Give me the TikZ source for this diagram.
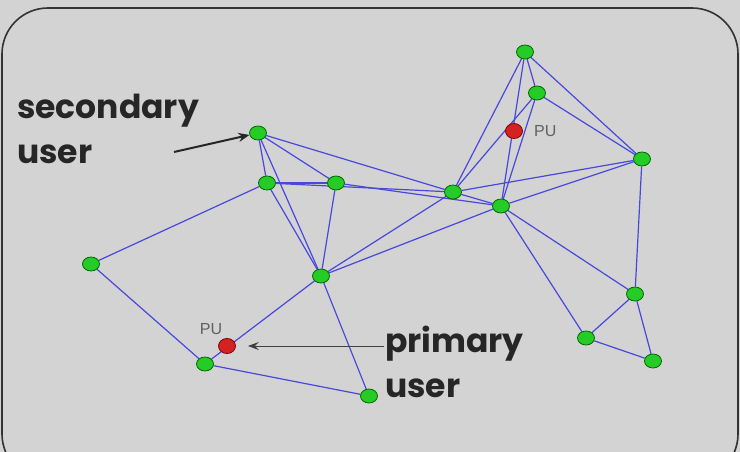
\documentclass[tikz,border=0pt]{standalone}
\usepackage{fontspec}
\newfontfamily\labelfont{Poppins}
\newfontfamily\pufont{Liberation Sans}
\usetikzlibrary{arrows.meta, backgrounds, shapes.geometric}
\definecolor{panelgray}{HTML}{D3D3D3}
\definecolor{linkblue}{HTML}{4848DC}
\definecolor{sugreen}{HTML}{26CC26}
\definecolor{pured}{HTML}{D42222}
\begin{document}
\begin{tikzpicture}[x=1pt, y=-1pt,
				su/.style={ellipse, draw=black!60!green, fill=sugreen, line width=0.8pt, minimum width=17pt, minimum height=14pt, inner sep=0pt},
				pu/.style={ellipse, draw=black!50!red, fill=pured, line width=0.8pt, minimum width=17pt, minimum height=15pt, inner sep=0pt},
				link/.style={draw=linkblue, line width=1.2pt},
				bigtext/.style={font=\labelfont\bfseries\fontsize{33}{45}\selectfont, text=black!85, align=left, inner sep=0pt},
				putext/.style={font=\pufont\fontsize{16}{16}\selectfont, text=black!62, inner sep=0pt}
			]
			\useasboundingbox (0,0) rectangle (740,452);
			% nodes
			\node[su] (n1) at (258,133) {};
			\node[su] (n2) at (267,183) {};
			\node[su] (n3) at (336,183) {};
			\node[su] (n4) at (453,192) {};
			\node[su] (n5) at (501,206) {};
			\node[su] (n6) at (525,52) {};
			\node[su] (n7) at (537,93) {};
			\node[su] (n8) at (642,159) {};
			\node[su] (n9) at (91,264) {};
			\node[su] (n10) at (321,276) {};
			\node[su] (n11) at (205,364) {};
			\node[su] (n12) at (369,396) {};
			\node[su] (n13) at (635,294) {};
			\node[su] (n14) at (586,338) {};
			\node[su] (n15) at (653,361) {};
			\node[pu] (pu1) at (514,131) {};
			\node[pu] (pu2) at (227,346) {};
			\node[putext, anchor=west] (pulab1) at (534,131) {PU};
			\node[putext] (pulab2) at (211,329) {PU};
			% links
			\begin{scope}[on background layer]
				\fill[panelgray] (0,0) rectangle (740,452);
				\draw[line width=1.6pt, black!80, rounded corners=46pt] (2,8) rectangle (738,480);
				\foreach \a/\b in {n1/n2, n1/n3, n1/n4, n1/n10, n2/n3, n2/n4, n2/n10, n2/n9,
						n3/n5, n3/n10, n4/n5, n4/n10, n5/n10, n4/n6, n4/n7, n4/n8,
						n6/n5, n6/n7, n6/n8, n7/n5, n7/n8, n5/n8, n5/n13, n5/n14,
						n8/n13, n13/n14, n13/n15, n14/n15, n9/n11, n10/n11, n10/n12, n11/n12}
					\draw[link] (\a) -- (\b);
			\end{scope}
			% labels
			\node[bigtext, anchor=north west] (seclab) at (17,94) {secondary\\user};
			\node[bigtext, anchor=north west] (prilab) at (385,326) {primary\\user};
			\coordinate (secfrom) at (174,152);
			\coordinate (prifrom) at (384,346);
			\draw[-{Stealth[length=11pt, width=9pt]}, line width=2pt, black!85] (secfrom) -- (n1);
			\draw[-{Stealth[length=11pt, width=8pt, inset=4pt]}, line width=1pt, black!75, shorten >=12pt] (prifrom) -- (pu2);
		\end{tikzpicture}
\end{document}
